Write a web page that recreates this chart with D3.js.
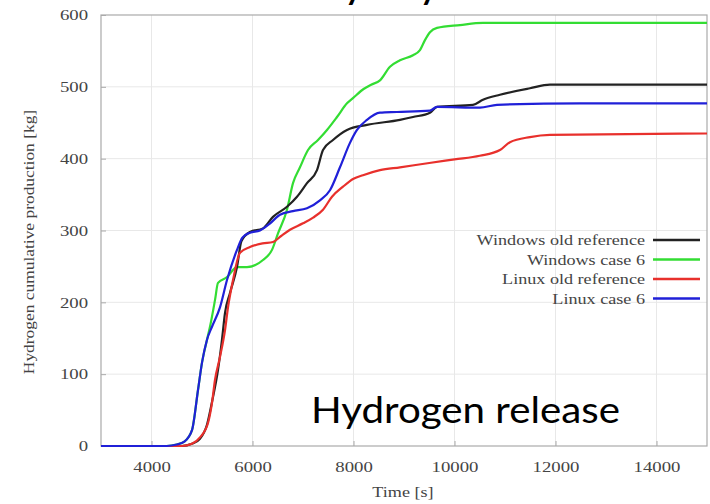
<!DOCTYPE html>
<html>
<head>
<meta charset="utf-8">
<script src="https://cdn.jsdelivr.net/npm/d3@7"></script>
<style>
  body { margin: 0; background: #fff; }
  svg { display: block; }
</style>
</head>
<body>
<svg width="710" height="504"></svg>
<script>
// Data: [time s, cumulative H2 kg]
var windowsOldRef = [[3000,0],[4600,0],[4800,3],[4960,10],[5100,30],[5200,62],[5317,106],[5396,148],[5455,185],[5554,213],[5693,249],[5780,285],[5950,298],[6208,303],[6406,319],[6683,333],[6881,347],[7079,366],[7277,384],[7396,412],[7594,426],[7871,440],[8267,447],[8920,454],[9178,458],[9514,464],[9653,472],[10366,475],[10564,482],[10900,489],[11494,498],[11890,503],[15000,503]];
var windowsCase6 = [[3000,0],[4300,0],[4500,2],[4650,6],[4802,22],[4921,78],[5000,116],[5099,148],[5158,166],[5257,203],[5317,227],[5495,235],[5693,249],[5891,249],[6208,259],[6386,273],[6505,296],[6683,329],[6802,366],[6940,388],[7099,412],[7297,426],[7475,440],[7673,458],[7871,477],[8000,485],[8200,497],[8350,503],[8524,509],[8722,528],[8920,537],[9178,544],[9316,551],[9415,565],[9514,576],[9653,582],[10108,586],[10564,589],[15000,589]];
var linuxOldRef = [[3000,0],[4600,0],[4800,3],[4960,12],[5119,32],[5198,60],[5257,92],[5356,124],[5455,161],[5515,193],[5614,231],[5752,269],[5950,277],[6200,282],[6406,284],[6560,292],[6742,301],[7000,310],[7200,318],[7396,329],[7574,347],[7792,361],[8000,372],[8188,377],[8524,384],[8920,388],[9500,394],[10000,399],[10500,404],[10900,412],[11098,423],[11494,430],[11890,433],[15000,435]];
var linuxCase6 = [[3000,0],[4300,0],[4500,2],[4650,6],[4802,22],[4921,78],[5000,116],[5099,148],[5198,166],[5356,193],[5495,231],[5693,273],[5800,290],[5950,297],[6148,300],[6350,310],[6544,322],[6800,327],[7079,331],[7336,342],[7534,356],[7732,388],[7930,422],[8069,440],[8267,454],[8524,464],[8861,465],[9514,467],[9653,472],[10504,471],[10841,475],[12484,477],[15000,477]];

var seriesNames = ["Windows old reference", "Windows case 6", "Linux old reference", "Linux case 6"];
var seriesColors = ["#222222", "#33dd33", "#e8302c", "#2020d8"];
var xTicks = [4000, 6000, 8000, 10000, 12000, 14000];
var yTicks = [0, 100, 200, 300, 400, 500, 600];

var svg = d3.select("svg");
var serif = "'Liberation Serif', 'DejaVu Serif', serif";

var x = d3.scaleLinear().domain([3000, 15000]).range([101, 707]);
var y = d3.scaleLinear().domain([0, 600]).range([446, 15]);

// the pasted chart image is stretched sideways, so widen its texts
function stretch(sel, f) {
  sel.each(function() {
    var w = this.getComputedTextLength();
    d3.select(this)
      .attr("textLength", w * f)
      .attr("lengthAdjust", "spacingAndGlyphs");
  });
}

// slide title, mostly cut off above the picture
var title = svg.append("text")
  .attr("x", 0)
  .attr("y", -3)
  .style("font-family", "Lato, 'Open Sans', sans-serif")
  .style("font-size", "44px")
  .style("word-spacing", "18px")
  .style("fill", "#000")
  .text("Reliability by OS");
var yPos = title.node().getStartPositionOfChar(10).x;
title.attr("x", 343 - yPos);

// grid
var grid = svg.append("g").attr("class", "grid");
grid.selectAll(".gx")
  .data(xTicks)
  .enter().append("line")
  .attr("x1", function(d) { return x(d); })
  .attr("x2", function(d) { return x(d); })
  .attr("y1", y(0))
  .attr("y2", y(600))
  .style("stroke", "#e8e8e8")
  .style("stroke-width", 1);
grid.selectAll(".gy")
  .data(yTicks.slice(1, -1))
  .enter().append("line")
  .attr("x1", x(3000))
  .attr("x2", x(15000))
  .attr("y1", function(d) { return y(d); })
  .attr("y2", function(d) { return y(d); })
  .style("stroke", "#e8e8e8")
  .style("stroke-width", 1);

// axes
var xAxis = svg.append("g")
  .attr("transform", "translate(0," + y(0) + ")")
  .call(d3.axisBottom(x).tickValues(xTicks).tickFormat(d3.format("d")).tickSize(-5).tickPadding(15));
var yAxis = svg.append("g")
  .attr("transform", "translate(" + x(3000) + ",0)")
  .call(d3.axisLeft(y).tickValues(yTicks).tickFormat(d3.format("d")).tickSize(-5).tickPadding(13));

[xAxis, yAxis].forEach(function(a) {
  a.select(".domain").remove();
  a.selectAll("line").style("stroke", "#aaa");
  a.selectAll("text")
    .style("font-family", serif)
    .style("font-size", "15px")
    .style("fill", "#444")
    .call(stretch, 1.25);
});

// border
svg.append("rect")
  .attr("x", x(3000))
  .attr("y", y(600))
  .attr("width", x(15000) - x(3000))
  .attr("height", y(0) - y(600))
  .style("fill", "none")
  .style("stroke", "#aaa")
  .style("stroke-width", 1.2);

// curves
var line = d3.line()
  .x(function(d) { return x(d[0]); })
  .y(function(d) { return y(d[1]); })
  .curve(d3.curveMonotoneX);

var allSeries = [windowsOldRef, windowsCase6, linuxOldRef, linuxCase6];
var drawOrder = [1, 0, 2, 3];
svg.append("g").selectAll("path")
  .data(drawOrder)
  .enter().append("path")
  .attr("d", function(i) { return line(allSeries[i]); })
  .style("fill", "none")
  .style("stroke", function(i) { return seriesColors[i]; })
  .style("stroke-width", 2.2)
  .style("stroke-linejoin", "round");

// legend
var legend = svg.append("g").selectAll("g")
  .data(seriesNames)
  .enter().append("g")
  .attr("transform", function(d, i) { return "translate(0," + (240 + i * 19.5) + ")"; });

legend.append("text")
  .attr("x", 645)
  .attr("y", 5)
  .attr("text-anchor", "end")
  .style("font-family", serif)
  .style("font-size", "14.5px")
  .style("fill", "#444")
  .text(function(d) { return d; })
  .call(stretch, 1.25);

legend.append("line")
  .attr("x1", 653)
  .attr("x2", 700)
  .style("stroke", function(d, i) { return seriesColors[i]; })
  .style("stroke-width", 2.5);

// axis titles
svg.append("text")
  .attr("transform", "translate(34,242) rotate(-90)")
  .attr("text-anchor", "middle")
  .style("font-family", serif)
  .style("font-size", "14.5px")
  .style("fill", "#444")
  .text("Hydrogen cumulative production [kg]")
  .call(stretch, 1.2);

svg.append("text")
  .attr("x", 403)
  .attr("y", 497)
  .attr("text-anchor", "middle")
  .style("font-family", serif)
  .style("font-size", "14.5px")
  .style("fill", "#444")
  .text("Time [s]")
  .call(stretch, 1.25);

// slide annotation
svg.append("text")
  .attr("x", 311)
  .attr("y", 423)
  .attr("textLength", 309)
  .attr("lengthAdjust", "spacingAndGlyphs")
  .style("font-family", "Lato, 'Open Sans', sans-serif")
  .style("font-size", "37px")
  .style("fill", "#000")
  .text("Hydrogen release");
</script>
</body>
</html>
